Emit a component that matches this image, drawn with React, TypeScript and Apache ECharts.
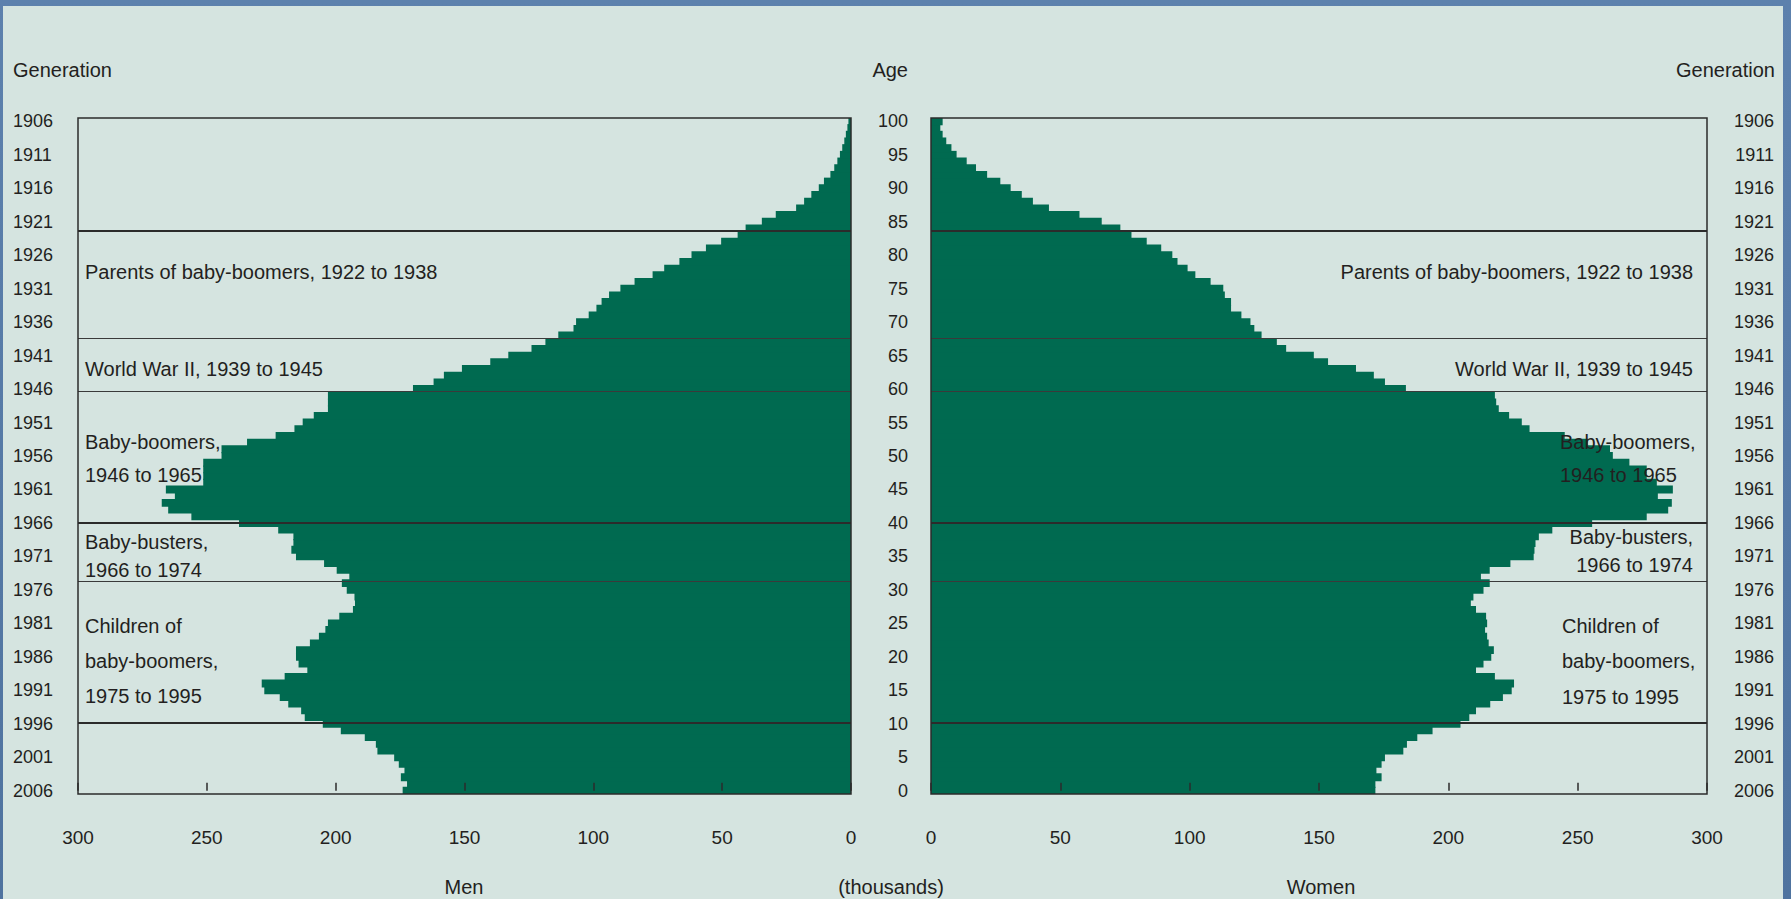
import React, { useEffect, useRef } from "react";
import * as echarts from "echarts";

// ---------------- data ----------------
const censusYear = 2006;
const ages: number[] = Array.from({ length: 101 }, (_, i) => i); // 0 .. 100

// Men, thousands, index = age 0..100
const men: number[] = [
  174, 172.3, 174.7, 173.3, 175.5, 177.3, 183.8, 184.4, 188.7, 198,
  205, 212, 213.4, 218.4, 221.7, 227.7, 228.7, 219.8, 211, 214.4,
  215.4, 215.4, 210, 206.5, 204, 203, 198.6, 193.3, 192.5, 192.7,
  195.7, 197.6, 194.7, 199.6, 204.5, 215.4, 217.2, 216.4, 216.4, 222.3,
  237.5, 256, 265, 267.5, 262.4, 265.9, 251.4, 251.4, 251.4, 251.4,
  244.3, 244.3, 234.4, 223.3, 216, 212.8, 208.5, 203, 203, 203,
  170, 162, 158, 151, 140, 133, 124, 118.6, 113.6, 107.7,
  106.7, 101.8, 98.8, 96.8, 93.9, 89.5, 84, 77, 72.5, 66.6,
  61.9, 56.3, 50.4, 44, 40.9, 34.6, 29.2, 21.3, 18.2, 15.4,
  12.5, 10.5, 8, 6.5, 5.3, 4.3, 3.4, 2.6, 2, 1.4,
  1,
];

// Women, thousands, index = age 0..100
const women: number[] = [
  171.8, 171.8, 174.2, 172.2, 174.2, 175.5, 182.6, 184, 188, 193.9,
  204.7, 208.1, 210.7, 216.2, 221.1, 224.5, 225.4, 218, 210.7, 213.6,
  216.6, 217.6, 215.6, 215, 214.2, 215, 214.6, 210.7, 208.7, 209.7,
  213.6, 216, 212.6, 216, 224, 233, 233.3, 233.7, 235, 240.2,
  255.6, 276.7, 285, 286.4, 281, 286.8, 280.6, 276.7, 276.7, 270,
  263.6, 262.5, 254, 245, 231.4, 228.4, 223.5, 219.5, 218.5, 218,
  183.6, 175.5, 171.2, 164.3, 153.5, 148, 137.3, 133.7, 127.8, 125,
  123.5, 120, 116, 116, 113.6, 113, 108.1, 102.2, 99.2, 95.3,
  93.3, 89, 83.4, 77.5, 73.2, 66, 57.4, 45.6, 39.4, 35.1,
  30.8, 26.8, 21.7, 17.4, 13.8, 9.9, 7.9, 5.9, 4.5, 3.6,
  4.5,
];

// generation boundary lines, on the age scale
const boundaryAges: number[] = [83.62, 67.63, 59.72, 39.99, 31.32, 10.11];

const xMax = 300;
const xInterval = 50;

const headerLeft = "Generation";
const headerMid = "Age";
const headerRight = "Generation";
const menTitle = "Men";
const womenTitle = "Women";
const unitTitle = "(thousands)";

const notes: string[][] = [
  ["Parents of baby-boomers, 1922 to 1938"],
  ["World War II, 1939 to 1945"],
  ["Baby-boomers,", "1946 to 1965"],
  ["Baby-busters,", "1966 to 1974"],
  ["Children of", "baby-boomers,", "1975 to 1995"],
];

// ---------------- styles ----------------
const FONT = "'Liberation Sans', Arial, sans-serif";
const TXT = "#231f20";
const GREEN = "#006a50";
const LINE = "#2b2b2b";

const G_TOP = 118;
const G_H = 676;
const MEN_L = 78;
const MEN_W = 773;
const WOM_L = 931;
const WOM_W = 776;

function App() {
  const ref = useRef<HTMLDivElement>(null);

  useEffect(() => {
    if (!ref.current) return;
    const chart = echarts.init(ref.current, null, { renderer: "svg" });

    const cats = ages.map((a) => String(a));

    const xAxisCommon = {
      type: "value" as const,
      min: 0,
      max: xMax,
      interval: xInterval,
      z: 10,
      splitLine: { show: false },
      axisLine: { show: false },
      axisTick: { show: true, inside: true, length: 8, lineStyle: { color: LINE, width: 1.5 } },
      axisLabel: { color: TXT, fontSize: 19, fontFamily: FONT, margin: 34 },
    };

    const yCat = {
      type: "category" as const,
      data: cats,
      axisLine: { show: false },
      axisTick: { show: false },
      splitLine: { show: false },
    };

    const thin = new Set([1, 2, 4]);
    const lineData = boundaryAges.map((v, i) => ({
      coords: [[0, v], [xMax, v]],
      lineStyle: thin.has(i)
        ? { color: "#3a3a3a", width: 1.2, opacity: 1 }
        : { color: LINE, width: 1.8, opacity: 1 },
    }));

    const text = (t: string, x: number, y: number, align: string, size = 20) => ({
      type: "text",
      x,
      y,
      z: 100,
      silent: true,
      style: {
        text: t,
        fill: TXT,
        fontSize: size,
        fontFamily: FONT,
        align,
        textAlign: align,
        verticalAlign: "middle",
        textVerticalAlign: "middle",
      },
    });

    const graphics: any[] = [
      text(headerLeft, 13, 70, "left"),
      text(headerMid, 908, 70, "right"),
      text(headerRight, 1775, 70, "right"),
      text(menTitle, 464, 887, "center"),
      text(unitTitle, 891, 887, "center"),
      text(womenTitle, 1321, 887, "center"),
    ];

    const leftPos: [number, number[]][] = [
      [85, [272]],
      [85, [369]],
      [85, [442, 475]],
      [85, [542, 570]],
      [85, [626, 661, 696]],
    ];
    notes.forEach((lines, i) => {
      lines.forEach((t, j) => graphics.push(text(t, leftPos[i][0], leftPos[i][1][j], "left")));
    });
    const rightPos: [number, string, number[]][] = [
      [1693, "right", [272]],
      [1693, "right", [369]],
      [1560, "left", [442, 475]],
      [1693, "right", [537, 565]],
      [1562, "left", [626, 661, 697]],
    ];
    notes.forEach((lines, i) => {
      lines.forEach((t, j) =>
        graphics.push(text(t, rightPos[i][0], rightPos[i][2][j], rightPos[i][1]))
      );
    });

    const barStyle = { color: GREEN, borderWidth: 0 };

    const option: any = {
      animation: false,
      backgroundColor: "transparent",
      textStyle: { fontFamily: FONT },
      grid: [
        { left: MEN_L, top: G_TOP, width: MEN_W, height: G_H, show: true, borderColor: LINE, borderWidth: 1.5, backgroundColor: "transparent", z: 6 },
        { left: WOM_L, top: G_TOP, width: WOM_W, height: G_H, show: true, borderColor: LINE, borderWidth: 1.5, backgroundColor: "transparent", z: 6 },
      ],
      xAxis: [
        { ...xAxisCommon, gridIndex: 0, inverse: true },
        { ...xAxisCommon, gridIndex: 1 },
      ],
      yAxis: [
        {
          ...yCat,
          gridIndex: 0,
          position: "left",
          axisLabel: {
            interval: 4,
            color: TXT,
            fontSize: 18,
            fontFamily: FONT,
            align: "left",
            margin: 65,
            formatter: (v: string) => String(censusYear - Number(v)),
          },
        },
        { type: "value", gridIndex: 0, min: -0.5, max: 100.5, show: false },
        {
          ...yCat,
          gridIndex: 1,
          position: "left",
          axisLabel: { interval: 4, color: TXT, fontSize: 18, fontFamily: FONT, align: "right", margin: 23 },
        },
        {
          ...yCat,
          gridIndex: 1,
          position: "right",
          axisLabel: {
            interval: 4,
            color: TXT,
            fontSize: 18,
            fontFamily: FONT,
            align: "right",
            margin: 67,
            formatter: (v: string) => String(censusYear - Number(v)),
          },
        },
        { type: "value", gridIndex: 1, min: -0.5, max: 100.5, show: false },
      ],
      series: [
        {
          name: "Men",
          type: "bar",
          xAxisIndex: 0,
          yAxisIndex: 0,
          data: men,
          barWidth: "118%",
          itemStyle: barStyle,
          silent: true,
          z: 2,
        },
        {
          name: "Women",
          type: "bar",
          xAxisIndex: 1,
          yAxisIndex: 2,
          data: women,
          barWidth: "118%",
          itemStyle: barStyle,
          silent: true,
          z: 2,
        },
        {
          type: "lines",
          coordinateSystem: "cartesian2d",
          xAxisIndex: 0,
          yAxisIndex: 1,
          data: lineData,
          lineStyle: { color: LINE, width: 1.6, opacity: 1 },
          silent: true,
          z: 5,
        },
        {
          type: "lines",
          coordinateSystem: "cartesian2d",
          xAxisIndex: 1,
          yAxisIndex: 4,
          data: lineData,
          lineStyle: { color: LINE, width: 1.6, opacity: 1 },
          silent: true,
          z: 5,
        },
      ],
      graphic: graphics,
    };

    chart.setOption(option);
    return () => chart.dispose();
  }, []);

  return (
    <div
      style={{
        position: "fixed",
        left: 0,
        top: 0,
        width: 1791,
        height: 899,
        background: "linear-gradient(180deg, #5d81ad 0%, #4f739f 100%)",
        overflow: "hidden",
      }}
    >
      <div
        style={{
          position: "absolute",
          left: 3,
          top: 6,
          width: 1780,
          height: 893,
          background: "#d5e4e0",
        }}
      />
      <div ref={ref} style={{ position: "absolute", left: 0, top: 0, width: 1791, height: 899 }} />
    </div>
  );
}

export default App;
